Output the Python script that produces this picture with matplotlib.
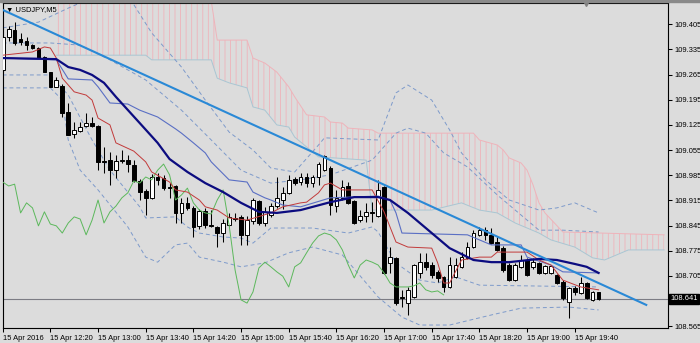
import numpy as np
import matplotlib
matplotlib.use('Agg')
import matplotlib.pyplot as plt

plt.rcParams['font.family'] = ['Liberation Sans', 'DejaVu Sans']
plt.rcParams['hatch.linewidth'] = 0.6

# USDJPY M5, 15 Apr 2016, bar 0 = 11:40
opens = [109.278, 109.370, 109.389, 109.364, 109.359, 109.347, 109.339, 109.314, 109.272, 109.231,
         109.233, 109.161, 109.100, 109.108, 109.122, 109.130, 109.122, 109.025, 109.027, 108.999,
         109.025, 109.027, 109.013, 108.969, 108.941, 108.922, 108.980, 108.977, 108.952, 108.955,
         108.880, 108.908, 108.894, 108.844, 108.885, 108.846, 108.841, 108.824, 108.846, 108.866,
         108.869, 108.819, 108.858, 108.913, 108.852, 108.874, 108.899, 108.916, 108.936, 108.974,
         108.966, 108.980, 108.963, 108.980, 108.999, 109.005, 108.899, 108.922, 108.955, 108.913,
         108.860, 108.871, 108.883, 108.871, 108.952, 108.741, 108.755, 108.646, 108.629, 108.646,
         108.713, 108.743, 108.735, 108.716, 108.702, 108.674, 108.702, 108.730, 108.755, 108.785,
         108.819, 108.832, 108.819, 108.799, 108.782, 108.735, 108.693, 108.730, 108.749, 108.730,
         108.741, 108.713, 108.713, 108.707, 108.688, 108.632, 108.671, 108.657, 108.685, 108.638,
         108.660]
highs = [109.372, 109.400, 109.411, 109.381, 109.370, 109.350, 109.342, 109.317, 109.272, 109.258,
         109.239, 109.186, 109.133, 109.133, 109.158, 109.147, 109.125, 109.064, 109.050, 109.041,
         109.055, 109.041, 109.027, 108.974, 108.947, 108.988, 108.991, 108.986, 108.963, 108.958,
         108.922, 108.924, 108.899, 108.891, 108.894, 108.888, 108.844, 108.863, 108.880, 108.880,
         108.874, 108.871, 108.922, 108.916, 108.897, 108.908, 108.980, 108.952, 108.986, 108.980,
         108.991, 108.991, 108.986, 109.022, 109.041, 109.011, 108.944, 108.972, 108.966, 108.916,
         108.888, 108.908, 108.910, 108.972, 108.955, 108.785, 108.757, 108.666, 108.674, 108.738,
         108.769, 108.769, 108.743, 108.721, 108.705, 108.757, 108.755, 108.771, 108.799, 108.832,
         108.841, 108.841, 108.838, 108.813, 108.788, 108.741, 108.741, 108.763, 108.755, 108.755,
         108.743, 108.735, 108.735, 108.710, 108.693, 108.674, 108.677, 108.702, 108.688, 108.663,
         108.660]
lows = [109.272, 109.359, 109.347, 109.347, 109.333, 109.336, 109.311, 109.272, 109.231, 109.231,
        109.147, 109.097, 109.089, 109.105, 109.119, 109.119, 108.999, 108.991, 108.958, 108.977,
        109.019, 108.994, 108.966, 108.916, 108.874, 108.919, 108.958, 108.944, 108.922, 108.852,
        108.852, 108.888, 108.813, 108.835, 108.838, 108.841, 108.785, 108.799, 108.844, 108.858,
        108.791, 108.791, 108.849, 108.846, 108.844, 108.869, 108.894, 108.891, 108.933, 108.958,
        108.958, 108.952, 108.952, 108.958, 108.997, 108.874, 108.883, 108.916, 108.905, 108.849,
        108.855, 108.855, 108.855, 108.869, 108.710, 108.713, 108.624, 108.618, 108.596, 108.643,
        108.699, 108.721, 108.699, 108.688, 108.660, 108.671, 108.699, 108.727, 108.752, 108.782,
        108.816, 108.805, 108.794, 108.774, 108.716, 108.691, 108.691, 108.727, 108.705, 108.724,
        108.710, 108.710, 108.710, 108.682, 108.638, 108.588, 108.652, 108.654, 108.641, 108.635,
        108.638]
closes = [109.370, 109.392, 109.353, 109.356, 109.347, 109.339, 109.311, 109.272, 109.231, 109.250,
          109.158, 109.097, 109.111, 109.119, 109.130, 109.122, 109.022, 109.022, 108.999, 109.025,
          109.027, 109.016, 108.969, 108.938, 108.922, 108.980, 108.972, 108.949, 108.949, 108.880,
          108.908, 108.894, 108.841, 108.885, 108.846, 108.844, 108.824, 108.852, 108.869, 108.863,
          108.819, 108.860, 108.916, 108.852, 108.883, 108.899, 108.922, 108.936, 108.972, 108.963,
          108.980, 108.963, 108.980, 109.016, 109.038, 108.902, 108.922, 108.952, 108.908, 108.852,
          108.871, 108.883, 108.880, 108.944, 108.713, 108.757, 108.629, 108.643, 108.666, 108.735,
          108.743, 108.730, 108.707, 108.699, 108.674, 108.735, 108.735, 108.757, 108.785, 108.824,
          108.832, 108.819, 108.796, 108.777, 108.721, 108.693, 108.735, 108.749, 108.707, 108.743,
          108.713, 108.732, 108.732, 108.685, 108.643, 108.671, 108.660, 108.685, 108.643, 108.660,
          108.641]

time_labels = ['15 Apr 2016', '15 Apr 12:20', '15 Apr 13:00', '15 Apr 13:40', '15 Apr 14:20',
               '15 Apr 15:00', '15 Apr 15:40', '15 Apr 16:20', '15 Apr 17:00', '15 Apr 17:40',
               '15 Apr 18:20', '15 Apr 19:00', '15 Apr 19:40']
price_ticks = [109.405, 109.335, 109.265, 109.195, 109.125, 109.055, 108.985,
               108.915, 108.845, 108.775, 108.705, 108.565]
last_price = 108.641

# moving average (navy)
ma_bars = [0, 9, 11, 13, 15, 17, 19, 23, 26, 28, 31, 34, 37, 40, 43, 46, 50, 55, 59, 63,
           65, 68, 72, 75, 79, 82, 85, 90, 93, 96, 98, 100]
ma_vals = [109.311, 109.308, 109.286, 109.278, 109.264, 109.242, 109.203, 109.130, 109.075, 109.030,
           108.994, 108.963, 108.938, 108.908, 108.883, 108.880, 108.888, 108.910, 108.924, 108.924,
           108.916, 108.880, 108.824, 108.782, 108.749, 108.743, 108.743, 108.752, 108.749, 108.738,
           108.730, 108.713]

# bollinger-type bands (dashed)
uo_bars = [0, 6, 11, 16, 21, 25, 30, 34, 38, 42, 45, 49, 53, 54, 63, 66, 68, 72, 75, 77,
           81, 85, 90, 93, 96, 100]
uo_vals = [109.395, 109.411, 109.450, 109.486, 109.486, 109.381, 109.286, 109.194, 109.105, 109.055,
           109.005, 108.994, 109.069, 109.089, 109.083, 109.214, 109.236, 109.194, 109.111, 109.047,
           108.972, 108.916, 108.888, 108.894, 108.908, 108.880]
ui_bars = [0, 8, 13, 18, 24, 30, 35, 40, 45, 50, 55, 62, 66, 68, 71, 74, 78, 83, 90, 94, 100]
ui_vals = [109.353, 109.353, 109.347, 109.306, 109.250, 109.166, 109.083, 108.999, 108.963, 108.972,
           108.986, 109.027, 109.102, 109.116, 109.102, 109.047, 109.008, 108.930, 108.832, 108.832,
           108.827]
li_bars = [0, 8, 11, 15, 18, 23, 24, 29, 31, 33, 37, 40, 42, 45, 52, 58, 62, 63, 66, 70,
           73, 76, 80, 100]
li_vals = [109.264, 109.264, 109.208, 109.083, 108.999, 108.897, 108.866, 108.869, 108.841, 108.824,
           108.813, 108.810, 108.796, 108.838, 108.838, 108.824, 108.841, 108.827, 108.741, 108.693,
           108.685, 108.702, 108.679, 108.674]
lo_bars = [0, 8, 10, 11, 13, 16, 21, 24, 26, 29, 31, 33, 37, 40, 44, 48, 52, 57, 63, 67,
           70, 75, 82, 87, 95, 100]
lo_vals = [109.228, 109.228, 109.194, 109.083, 108.999, 108.944, 108.841, 108.757, 108.743, 108.791,
           108.796, 108.757, 108.743, 108.730, 108.741, 108.769, 108.785, 108.763, 108.646, 108.590,
           108.568, 108.568, 108.596, 108.615, 108.618, 108.610]

# ichimoku
tenkan_bars = [0, 5, 7, 8, 9, 10, 12, 14, 15, 16, 18, 19, 22, 24, 25, 28, 29, 31, 33, 34,
               36, 38, 41, 45, 47, 50, 51, 53, 54, 55, 57, 62, 64, 65, 66, 68, 72, 73, 74, 75,
               77, 80, 82, 83, 88, 90, 92, 94, 97, 100]
tenkan_vals = [109.319, 109.328, 109.342, 109.339, 109.311, 109.255, 109.217, 109.208, 109.194, 109.144,
               109.125, 109.075, 109.052, 109.022, 108.994, 108.966, 108.944, 108.938, 108.916, 108.897,
               108.888, 108.866, 108.860, 108.880, 108.897, 108.908, 108.910, 108.936, 108.958, 108.963,
               108.944, 108.944, 108.883, 108.841, 108.799, 108.785, 108.782, 108.741, 108.685, 108.685,
               108.749, 108.757, 108.757, 108.771, 108.771, 108.749, 108.735, 108.693, 108.674, 108.666]
kijun_bars = [0, 9, 11, 15, 16, 18, 21, 23, 26, 29, 30, 32, 34, 35, 38, 41, 42, 44, 45, 47,
              50, 55, 63, 65, 66, 67, 78, 82, 87, 88, 92, 94, 100]
kijun_vals = [109.311, 109.306, 109.253, 109.250, 109.231, 109.186, 109.183, 109.166, 109.147, 109.114,
              109.102, 109.075, 109.047, 109.022, 108.972, 108.966, 108.938, 108.922, 108.916, 108.902,
              108.897, 108.922, 108.927, 108.916, 108.880, 108.824, 108.819, 108.791, 108.791, 108.757,
              108.735, 108.716, 108.713]
chikou_vals = [108.966, 108.955, 108.960, 108.880, 108.908, 108.894, 108.844, 108.883, 108.849, 108.844,
               108.824, 108.852, 108.869, 108.863, 108.819, 108.860, 108.916, 108.852, 108.883, 108.899,
               108.922, 108.936, 108.969, 108.963, 108.980, 108.972, 108.999, 109.016, 108.986, 108.916,
               108.930, 108.949, 108.908, 108.888, 108.880, 108.877, 108.916, 108.944, 108.846, 108.721,
               108.638, 108.629, 108.660, 108.727, 108.743, 108.730, 108.716, 108.704, 108.674, 108.730,
               108.741, 108.769, 108.796, 108.816, 108.824, 108.819, 108.805, 108.777, 108.735, 108.699,
               108.735, 108.749, 108.743, 108.735, 108.713, 108.685, 108.674, 108.674, 108.674, 108.677,
               108.685, 108.666, 108.660, 108.663, 108.652]
span_a_bars = [9, 35, 36, 41, 42, 44, 46, 48, 49, 51, 54, 55, 57, 58, 62, 63, 79, 80, 83, 84,
               85, 87, 88, 89, 90, 91, 94, 111]
span_a_vals = [109.470, 109.470, 109.361, 109.361, 109.311, 109.297, 109.272, 109.231, 109.203, 109.153,
               109.147, 109.133, 109.130, 109.116, 109.111, 109.102, 109.102, 109.083, 109.069, 109.055,
               109.033, 109.019, 108.999, 108.958, 108.908, 108.880, 108.827, 108.819]
span_b_bars = [9, 24, 25, 35, 36, 38, 41, 42, 44, 46, 48, 49, 52, 53, 61, 62, 72, 77, 80, 83,
               86, 90, 92, 96, 99, 101, 105, 111]
span_b_vals = [109.319, 109.319, 109.306, 109.306, 109.255, 109.242, 109.228, 109.175, 109.166, 109.125,
               109.119, 109.091, 109.050, 109.036, 109.027, 108.888, 108.888, 108.908, 108.888, 108.880,
               108.852, 108.824, 108.805, 108.785, 108.755, 108.749, 108.777, 108.777]

trend_bars = [0, 108]
trend_vals = [109.445, 108.624]

bg = '#dcdcdc'
fig = plt.figure(figsize=(7.0, 3.43), dpi=100, facecolor=bg)
ax = fig.add_axes([2.7 / 700, 1 - 328.3 / 343, 665 / 700, 325 / 343])
ax.set_facecolor(bg)

# window frame strip on top
fig.patches.append(plt.Rectangle((0, 1 - 2 / 343), 1, 2 / 343, transform=fig.transFigure,
                                 color='#8a8a8a', zorder=0))

# kumo
cloud_x = span_a_bars + span_b_bars[::-1]
cloud_y = span_a_vals + span_b_vals[::-1]
ax.fill(cloud_x, cloud_y, facecolor='none', edgecolor='#efb3ba', hatch='|||', lw=0, zorder=1)
ax.plot(span_a_bars, span_a_vals, color='#efb3ba', lw=0.7, zorder=2)
ax.plot(span_b_bars, span_b_vals, color='#a9c6d3', lw=0.7, zorder=2)

# bands
for bx, by in [(uo_bars, uo_vals), (ui_bars, ui_vals), (li_bars, li_vals), (lo_bars, lo_vals)]:
    ax.plot(bx, by, color='#7d9acb', lw=0.7, ls=(0, (4, 3)), zorder=2)

# candles
bars = np.arange(len(opens))
o = np.array(opens)
c = np.array(closes)
up = c >= o
ax.vlines(bars, lows, highs, color='black', lw=0.75, zorder=3)
body = np.where(np.abs(c - o) < 0.0008, 0.0008, c - o)
ax.bar(bars[up], body[up], bottom=o[up], width=0.62, facecolor='white',
       edgecolor='black', lw=0.7, zorder=4)
ax.bar(bars[~up], body[~up], bottom=o[~up], width=0.62, facecolor='black',
       edgecolor='black', lw=0.7, zorder=4)

# indicator lines
ax.plot(np.arange(len(chikou_vals)), chikou_vals, color='#5cb85c', lw=0.7, zorder=5)
ax.plot(kijun_bars, kijun_vals, color='#5a6fc4', lw=0.8, zorder=5)
ax.plot(tenkan_bars, tenkan_vals, color='#c23a3a', lw=0.7, zorder=5)
ax.plot(ma_bars, ma_vals, color='#0c0c80', lw=1.6, zorder=6)
ax.plot(trend_bars, trend_vals, color='#2a89d6', lw=1.5, zorder=7)

ax.axhline(last_price, color='#7c7c84', lw=0.8, zorder=2)

ax.set_xlim(0, 111.6)
ax.set_ylim(108.5589, 109.4634)

ax.set_xticks(np.arange(0, 97, 8))
ax.set_xticklabels(time_labels, ha='left')
ax.set_yticks(price_ticks)
ax.set_yticklabels(['%.3f' % p for p in price_ticks])
ax.yaxis.tick_right()
ax.tick_params(axis='x', length=3, width=0.75, labelsize=5.4, pad=1.5)
ax.tick_params(axis='y', length=3, width=0.75, labelsize=5.4, pad=1.5)
for s in ax.spines.values():
    s.set_color('black')
    s.set_linewidth(0.8)

ax.text(1.004, last_price, '%.3f' % last_price, transform=ax.get_yaxis_transform(),
        ha='left', va='center', color='white', fontsize=5.4,
        bbox=dict(boxstyle='square,pad=0.18', fc='black', ec='black'))

# chart shift marker
ax.plot([97.9], [1.0], marker='v', color='#808080', ms=4, transform=ax.get_xaxis_transform(),
        clip_on=False, zorder=8)

fig.text(6 / 700, 1 - 9.5 / 343, '\u25bc USDJPY,M5', fontsize=5.4, va='center', ha='left')

fig.savefig('out.png', dpi=100, facecolor=bg)
